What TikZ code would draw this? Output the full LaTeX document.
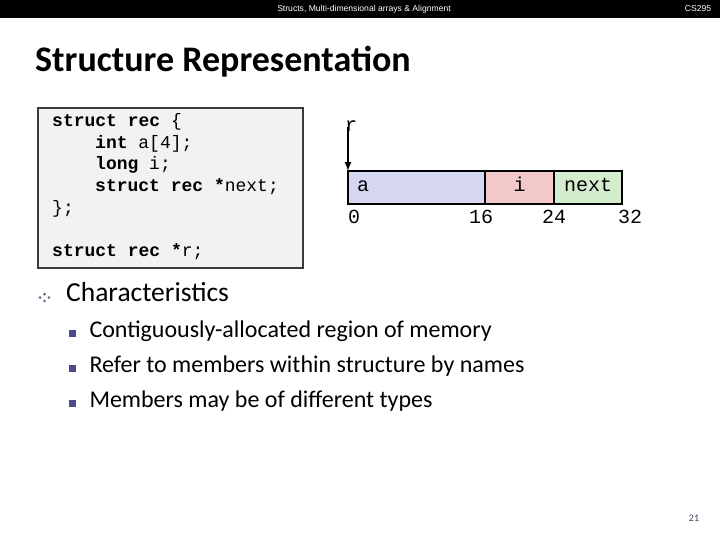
\documentclass[tikz,border=0pt]{standalone}
\usepackage{fontspec}
\setmainfont{Carlito}
\newfontfamily\codefont{Liberation Mono}
\newfontfamily\headfont{Liberation Sans}
\usetikzlibrary{positioning,calc}
\definecolor{abox}{HTML}{D6D8F2}
\definecolor{ibox}{HTML}{F2C8C8}
\definecolor{nextbox}{HTML}{D4EECD}
\definecolor{codegray}{HTML}{F2F2F2}
\definecolor{codeborder}{HTML}{3A3A3A}
\definecolor{bulletpurple}{HTML}{4B4B8C}
\definecolor{dotgray}{HTML}{5E5E8E}
\definecolor{pagenum}{HTML}{3C3C5A}
\newcommand{\fsz}[1]{\fontsize{#1}{#1}\selectfont}

\begin{document}
\begin{tikzpicture}[x=1pt,y=-1pt,>=latex,
    codeline/.style={anchor=base west,inner sep=0,font=\codefont\fsz{18}},
    cell/.style={draw,line width=2pt,outer sep=0,minimum height=33pt,inner sep=0,
        text height=11pt,text depth=2pt,font=\codefont\fsz{20}},
    offset/.style={anchor=base,inner sep=0,font=\codefont\fsz{20}},
    subitem/.style={anchor=base west,inner sep=0,font=\fsz{24}},
    sqbullet/.style={fill=bulletpurple,minimum size=7pt,inner sep=0}]
    \useasboundingbox(0,0)rectangle(720,540);
    \fill[white](0,0)rectangle(720,540);
    % header bar
    \fill[black](0,0)rectangle(720,18);
    \node[white,inner sep=0,font=\headfont\fsz{8.6}](head)at(364,9){Structs, Multi-dimensional arrays \& Alignment};
    \node[white,inner sep=0,font=\headfont\fsz{8.6}](course)at(698,9){CS295};
    % title
    \node[anchor=base west,inner sep=0,font=\bfseries\fsz{36}](title)at(35,72){Structure Representation};
    % code box
    \node[draw=codeborder,fill=codegray,line width=2.2pt,anchor=north west,inner sep=0,
        minimum width=265pt,minimum height=160pt](codebox)at(37,107){};
    \newcommand{\KW}[1]{\textbf{#1}}
    \node[codeline](c1)at(52,126.7){\KW{struct rec} \{};
    \node[codeline](c2)at(95,148.3){\KW{int} a[4];};
    \node[codeline](c3)at(95,170){\KW{long} i;};
    \node[codeline](c4)at(95,191.7){\KW{struct rec *}next;};
    \node[codeline](c5)at(52,213.3){\};};
    \node[codeline](c6)at(52,256.7){\KW{struct rec *}r;};
    % memory layout
    \node[cell,fill=abox,minimum width=137pt](a)at(416.5,187.5){};
    \node[cell,fill=ibox,minimum width=69pt,right=0pt of a](i){i};
    \node[cell,fill=nextbox,minimum width=68pt,right=0pt of i](next){next};
    \node[inner sep=0,anchor=west,font=\codefont\fsz{20},text height=11pt,text depth=2pt](alabel)at([xshift=9pt]a.west){a};
    \node[offset](o0)at(354,223){0};
    \node[offset](o16)at(481,223){16};
    \node[offset](o24)at(554,223){24};
    \node[offset](o32)at(630,223){32};
    % pointer r
    \node[anchor=base,inner sep=0,font=\codefont\fsz{20}](r)at(351,131.7){r};
    \draw[->,line width=2pt]([yshift=5pt]r.south -| a.north west)--(a.north west);
    % characteristics
    \coordinate(dia)at(44.5,297.5);
    \foreach \ang/\rad in {0/4.4,90/3.4,180/4.4,270/3.4}
        \fill[dotgray]($(dia)+(\ang:\rad)$)circle(1.4);
    \node[anchor=base west,inner sep=0,font=\fsz{27.5}](char)at(66,301.7){Characteristics};
    \foreach \txt[count=\k] in {Contiguously-allocated region of memory,
        Refer to members within structure by names,Members may be of different types}{
        \node[sqbullet](sq\k)at(72.5,298.5+35*\k){};
        \node[subitem](item\k)at(89.3,302+35*\k){\txt};
    }
    % page number
    \node[pagenum,inner sep=0,font=\fsz{10}](page)at(694,518){21};
\end{tikzpicture}
\end{document}
